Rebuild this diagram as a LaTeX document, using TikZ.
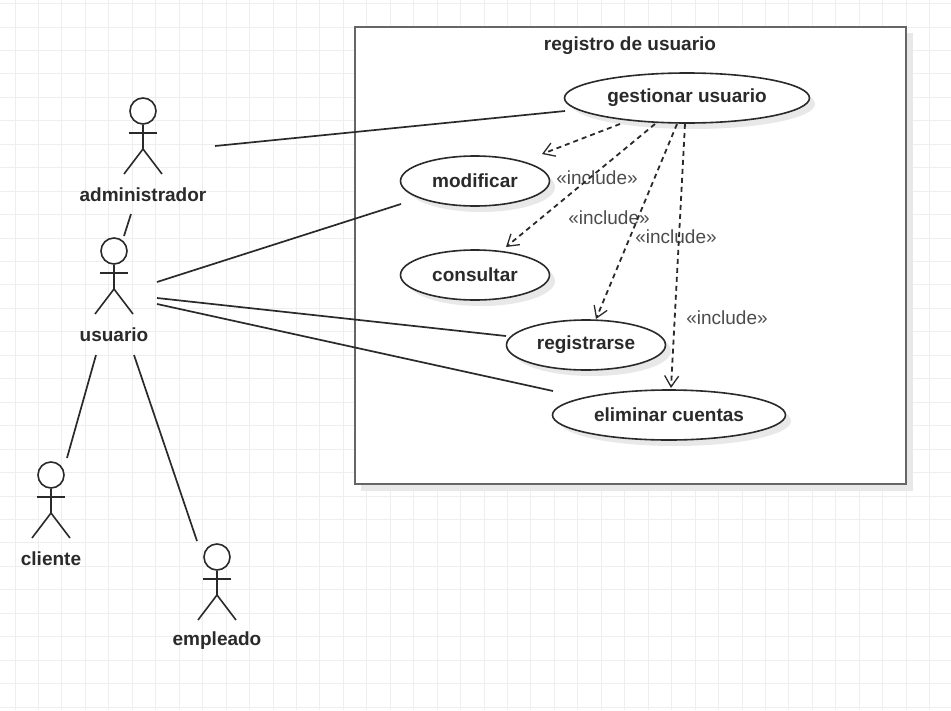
\documentclass[tikz,border=0pt]{standalone}
\usepackage{fontspec}
\setmainfont{Liberation Sans}
\usetikzlibrary{arrows.meta,shapes.geometric}
\definecolor{gridc}{HTML}{EEEEEE}
\definecolor{shadowc}{HTML}{E8E8E8}
\definecolor{inkc}{HTML}{2A2A2A}
\tikzset{
  usecase/.style={ellipse,draw=inkc,line width=1.6pt,fill=white,inner sep=0pt,minimum width=#1,minimum height=50pt,font=\fontsize{19}{22}\selectfont\bfseries,text=inkc},
  usecaseshadow/.style={fill=shadowc,draw=none},
  actorlabel/.style={font=\fontsize{19}{22}\selectfont\bfseries,text=inkc,inner sep=0pt},
  stick/.style={draw=inkc,line width=1.6pt},
  assoc/.style={draw=inkc,line width=1.7pt},
  incl/.style={draw=inkc,line width=1.8pt,dash pattern=on 5pt off 4pt,-{Straight Barb[length=11pt,width=14pt,line width=1.3pt]}},
  incllabel/.style={font=\fontsize{19}{22}\selectfont,text=black!70,inner sep=0pt},
  head/.style={circle,draw=inkc,line width=1.6pt,fill=white,minimum size=26pt,inner sep=0pt},
  gridline/.style={draw=gridc,line width=0.9pt}
}
\newcommand{\stickman}[4]{% name, x, head y, label
  \node[head] (#1head) at (#2,#3) {};
  \coordinate (#1hip) at (#2,#3+38);
  \draw[stick] (#1head.south) -- (#1hip);
  \draw[stick] (#2-14,#3+22) -- (#2+14,#3+22);
  \draw[stick] (#2-19,#3+63) -- (#1hip) -- (#2+19,#3+63);
  \node[actorlabel] (#1label) at (#2,#3+84) {#4};
}
\begin{document}
\begin{tikzpicture}[x=1pt,y=-1pt]
\useasboundingbox (0,0) rectangle (951,710);
\fill[white] (0,0) rectangle (951,710);
% background grid
\foreach \i in {0,...,39}{
  \draw[gridline] ({15+23.45*\i},0) -- ({15+23.45*\i},710);
}
\foreach \i in {0,...,30}{
  \draw[gridline] (0,{3.5+23.45*\i}) -- (951,{3.5+23.45*\i});
}
% frame
\fill[shadowc] (361,33) rectangle (913,491);
\node[draw=black!60,line width=2.6pt,fill=white,minimum width=551pt,minimum height=457pt,inner sep=0pt] (frame) at (630.5,255.5) {};
\node[actorlabel] (title) at (630,46) {registro de usuario};
% shadows
\fill[usecaseshadow] (693,104) ellipse [x radius=122,y radius=25];
\fill[usecaseshadow] (481,187) ellipse [x radius=74,y radius=25];
\fill[usecaseshadow] (481,281) ellipse [x radius=74,y radius=25];
\fill[usecaseshadow] (592,351) ellipse [x radius=79,y radius=25];
\fill[usecaseshadow] (675,421) ellipse [x radius=116,y radius=25];
% use cases
\node[usecase=245pt] (gest) at (687,98) {gestionar usuario};
\node[usecase=149pt] (modi) at (475,181) {modificar};
\node[usecase=149pt] (cons) at (475,275) {consultar};
\node[usecase=159pt] (regi) at (586,345) {registrarse};
\node[usecase=233pt] (elim) at (669,415) {eliminar cuentas};
% actors
\stickman{adm}{143}{111}{administrador}
\stickman{usu}{114}{251}{usuario}
\stickman{cli}{51}{475}{cliente}
\stickman{emp}{217}{557}{empleado}
% include labels
\node[incllabel] (l1) at (597,178) {«include»};
\node[incllabel] (l2) at (609,218) {«include»};
\node[incllabel] (l3) at (676,237) {«include»};
\node[incllabel] (l4) at (727,318) {«include»};
% free ends
\coordinate (a1) at (215,146);
\coordinate (a2) at (565,111);
\coordinate (b1) at (131,214);
\coordinate (b2) at (124,236);
\coordinate (c1) at (157,282);
\coordinate (c2) at (401,204);
\coordinate (d1) at (157,298);
\coordinate (d2) at (506,336);
\coordinate (e1) at (157,304);
\coordinate (e2) at (553,391);
\coordinate (f1) at (96,355);
\coordinate (f2) at (67,458);
\coordinate (g1) at (134,355);
\coordinate (g2) at (197,541);
\draw[assoc] (a1) -- (a2);
\draw[assoc] (b1) -- (b2);
\draw[assoc] (c1) -- (c2);
\draw[assoc] (d1) -- (d2);
\draw[assoc] (e1) -- (e2);
\draw[assoc] (f1) -- (f2);
\draw[assoc] (g1) -- (g2);
% include arrows
\coordinate (h1) at (620,124);
\coordinate (h2) at (542,154);
\coordinate (i1) at (655,124);
\coordinate (i2) at (506,247);
\coordinate (j1) at (677,124);
\coordinate (j2) at (596,319);
\coordinate (k1) at (685,124);
\coordinate (k2) at (671,388);
\draw[incl] (h1) -- (h2);
\draw[incl] (i1) -- (i2);
\draw[incl] (j1) -- (j2);
\draw[incl] (k1) -- (k2);
\end{tikzpicture}
\end{document}
